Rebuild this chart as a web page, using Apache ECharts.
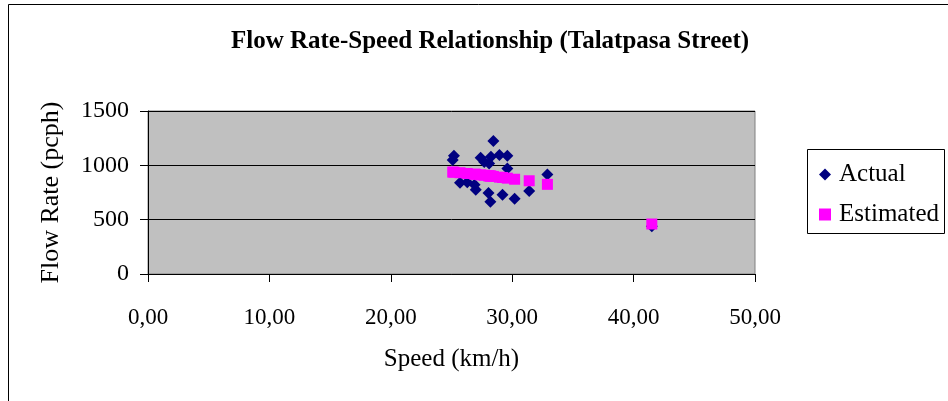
<!DOCTYPE html>
<html><head><meta charset="utf-8">
<script src="https://cdn.jsdelivr.net/npm/echarts@6/dist/echarts.min.js"></script>
<style>html,body{margin:0;padding:0;background:#fff}#c{width:948px;height:401px}</style>
</head><body><div id="c"></div>
<script>
var titleText = 'Flow Rate-Speed Relationship (Talatpasa Street)';
var xTicks = ['0,00','10,00','20,00','30,00','40,00','50,00'];
var yTicks = [0, 500, 1000, 1500];
var actualSpeed = [25.1,25.2,25.7,26.3,26.9,27.0,27.4,27.7,28.05,28.1,28.2,28.25,28.45,28.95,29.2,29.6,29.6,30.2,31.4,32.9,41.5];
var actualFlow  = [1050,1088,840,845,822,776,1070,1030,745,1018,665,1080,1224,1095,730,1088,972,693,763,915,440];
var estSpeed = [25.1,25.2,25.7,26.3,26.9,27.0,27.4,27.7,28.05,28.1,28.2,28.25,28.45,28.95,29.2,29.6,30.2,31.4,32.9,41.5];
var estFlow  = [938,937,932,925,919,917,912,909,904,903,902,901,898,891,888,882,872,858,825,460];

function pairs(xs, ys){ return xs.map(function(x,i){return [x, ys[i]];}); }
var F = 'Liberation Serif, Times New Roman, serif';
var chart = echarts.init(document.getElementById('c'));
chart.setOption({
  animation:false,
  backgroundColor:'#fff',
  textStyle:{fontFamily:F},
  title:{text:titleText,left:485,textAlign:'center',top:24,textStyle:{fontFamily:F,fontWeight:'bold',fontSize:25,color:'#000'}},
  grid:{left:148,right:193,top:111,bottom:127,show:true,backgroundColor:'#C0C0C0',borderColor:'#808080',borderWidth:1},
  legend:{orient:'vertical',left:814,top:157,itemWidth:12,itemHeight:12,itemGap:15,
    textStyle:{fontFamily:F,fontSize:25,color:'#000',padding:[0,0,0,3]},
    data:[{name:'Actual',icon:'diamond'},{name:'Estimated',icon:'rect'}]},
  xAxis:{type:'value',min:0,max:50,interval:10,name:'Speed (km/h)',nameLocation:'middle',nameGap:73,
    nameTextStyle:{fontFamily:F,fontSize:25,color:'#000'},
    axisLine:{lineStyle:{color:'#000'}},axisTick:{show:true,length:8,lineStyle:{color:'#000'}},
    axisLabel:{margin:32,fontFamily:F,fontSize:23,color:'#000',formatter:function(v){return xTicks[Math.round(v/10)];}},
    splitLine:{show:false}},
  yAxis:{type:'value',min:0,max:1500,interval:500,name:'Flow Rate (pcph)',nameLocation:'middle',nameGap:84,
    nameTextStyle:{fontFamily:F,fontSize:26,color:'#000'},
    axisLine:{show:true,lineStyle:{color:'#000'}},axisTick:{show:true,length:8,lineStyle:{color:'#000'}},
    axisLabel:{margin:19,fontFamily:F,fontSize:24,color:'#000',formatter:function(v){return yTicks.indexOf(v)>=0?String(v):'';}},
    splitLine:{show:true,lineStyle:{color:'#000',width:1}}},
  graphic:[
    {type:'rect',shape:{x:8.5,y:4.5,width:1000,height:1000},style:{fill:null,stroke:'#000',lineWidth:1},silent:true,z:-1},
    {type:'rect',shape:{x:807.5,y:149.5,width:137,height:84},style:{fill:'#fff',stroke:'#000',lineWidth:1},silent:true,z:-1}
  ],
  series:[
    {name:'Actual',type:'scatter',symbol:'diamond',symbolSize:12,itemStyle:{color:'#000080',opacity:1},data:pairs(actualSpeed,actualFlow),z:2},
    {name:'Estimated',type:'scatter',symbol:'rect',symbolSize:11,itemStyle:{color:'#FF00FF',opacity:1},data:pairs(estSpeed,estFlow),z:3}
  ]
});
</script></body></html>
